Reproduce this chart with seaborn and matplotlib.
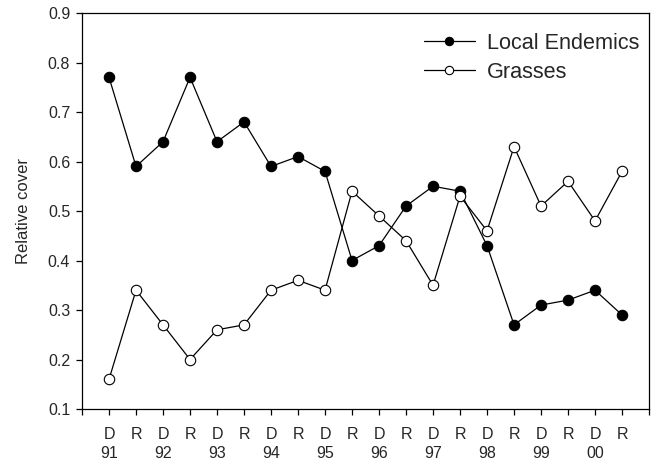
import matplotlib
matplotlib.use("Agg")
import matplotlib.pyplot as plt
import seaborn as sns
import numpy as np

seasons = ["D", "R"] * 10
years = ["91", "92", "93", "94", "95", "96", "97", "98", "99", "00"]
endemics = [0.77, 0.59, 0.64, 0.77, 0.64, 0.68, 0.59, 0.61, 0.58, 0.40,
            0.43, 0.51, 0.55, 0.54, 0.43, 0.27, 0.31, 0.32, 0.34, 0.29]
grasses = [0.16, 0.34, 0.27, 0.20, 0.26, 0.27, 0.34, 0.36, 0.34, 0.54,
           0.49, 0.44, 0.35, 0.53, 0.46, 0.63, 0.51, 0.56, 0.48, 0.58]

sns.set_theme(style="ticks")
plt.rcParams['font.family'] = ['Liberation Sans', 'DejaVu Sans']

fig = plt.figure(figsize=(6.51, 4.66), dpi=100)
ax = fig.add_axes([0.126, 0.1223, 0.871, 0.8498])

x = np.arange(1, len(endemics) + 1)
sns.lineplot(x=x, y=endemics, ax=ax, color="black", lw=0.9, marker="o",
             markersize=7.5, markerfacecolor="black", markeredgecolor="black",
             markeredgewidth=0.8, label="Local Endemics")
sns.lineplot(x=x, y=grasses, ax=ax, color="black", lw=0.9, marker="o",
             markersize=7.5, markerfacecolor="white", markeredgecolor="black",
             markeredgewidth=0.8, label="Grasses")

ax.set_xlim(0, 21)
ax.set_ylim(0.1, 0.9)
ax.set_xticks(np.arange(0, 22))
labels = [""]
for i, s in enumerate(seasons):
    if i % 2 == 0:
        labels.append(s + "\n" + years[i // 2])
    else:
        labels.append(s + "\n ")
labels.append("")
ax.set_xticklabels(labels, linespacing=1.35)
ax.set_yticks(np.arange(0.1, 0.91, 0.1))
ax.set_yticklabels([f"{v:.1f}" for v in np.arange(0.1, 0.91, 0.1)])

for sp in ax.spines.values():
    sp.set_visible(True)
    sp.set_color("black")
    sp.set_linewidth(0.9)
ax.tick_params(axis="both", direction="out", labelsize=11.5, color="black",
               width=0.9, top=False, right=False)
ax.tick_params(axis="x", length=4, pad=9)
ax.tick_params(axis="y", length=4.5, pad=4)

ax.set_xlabel("")
ax.set_ylabel("Relative cover", fontsize=12, labelpad=12)

ax.legend(loc="upper right", bbox_to_anchor=(0.998, 0.972), frameon=False,
          borderaxespad=0, fontsize=15.6, handlelength=2.35,
          handletextpad=0.55, labelspacing=0.36, markerscale=0.8)

fig.savefig("out.png", dpi=100)
